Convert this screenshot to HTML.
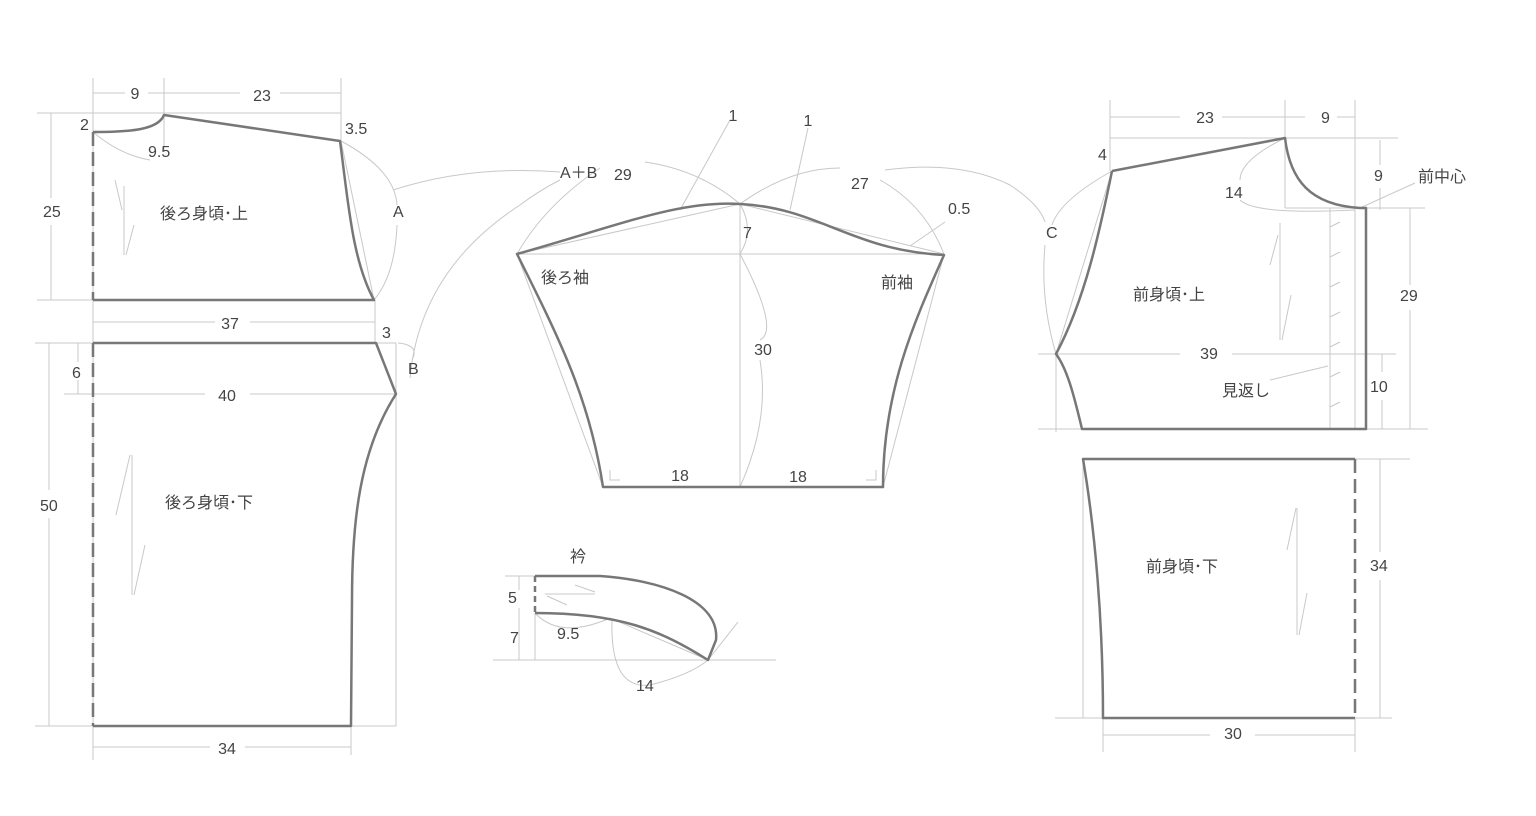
<!DOCTYPE html>
<html><head><meta charset="utf-8"><style>
html,body{margin:0;padding:0;background:#fff;}
svg{display:block;}
text{font-family:"Liberation Sans","Noto Sans CJK JP",sans-serif;font-size:16px;fill:#444;}
.t{fill:none;stroke:#c8c8c8;stroke-width:1;}
.k{fill:none;stroke:#777;stroke-width:2.5;stroke-linejoin:round;}
.d{fill:none;stroke:#777;stroke-width:2.5;stroke-dasharray:14,6;}
</style></head><body>
<svg width="1536" height="816" viewBox="0 0 1536 816">
<g class="t">
<line x1="93" y1="78" x2="93" y2="760"/>
<line x1="164" y1="78" x2="164" y2="152"/>
<line x1="341" y1="78" x2="341" y2="141"/>
<line x1="93" y1="93" x2="125" y2="93"/><line x1="148" y1="93" x2="240" y2="93"/><line x1="280" y1="93" x2="341" y2="93"/>
<line x1="37" y1="113" x2="341" y2="113"/>
<line x1="51" y1="113" x2="51" y2="198"/><line x1="51" y1="225" x2="51" y2="300"/>
<line x1="37" y1="300" x2="93" y2="300"/>
<line x1="93" y1="322" x2="215" y2="322"/><line x1="250" y1="322" x2="375" y2="322"/>
<line x1="375" y1="300" x2="375" y2="343"/>
<path d="M93 132 Q120 155 150 160"/>
<line x1="341" y1="141" x2="374" y2="300"/>
<path d="M341 141 Q395 170 397 205"/><path d="M397 225 Q395 275 374 300"/>
<path d="M393 190 Q470 165 560 172"/>
<path d="M398 343 Q420 345 412 360"/>
<path d="M410 378 Q420 270 520 205 Q540 190 560 180"/>
<line x1="115" y1="180" x2="122" y2="210"/><line x1="124" y1="186" x2="124" y2="255"/><line x1="126" y1="255" x2="134" y2="225"/>
<line x1="35" y1="343" x2="93" y2="343"/>
<line x1="49" y1="343" x2="49" y2="490"/><line x1="49" y1="518" x2="49" y2="726"/>
<line x1="78" y1="343" x2="78" y2="362"/><line x1="78" y1="380" x2="78" y2="394"/>
<line x1="64" y1="394" x2="205" y2="394"/><line x1="250" y1="394" x2="396" y2="394"/>
<line x1="376" y1="343" x2="396" y2="343"/><line x1="396" y1="343" x2="396" y2="726"/>
<line x1="35" y1="726" x2="93" y2="726"/><line x1="351" y1="726" x2="396" y2="726"/>
<line x1="351" y1="726" x2="351" y2="755"/>
<line x1="93" y1="747" x2="210" y2="747"/><line x1="245" y1="747" x2="351" y2="747"/>
<line x1="116" y1="515" x2="130" y2="455"/><line x1="132" y1="455" x2="132" y2="595"/><line x1="134" y1="595" x2="145" y2="545"/>
</g>
<g>
<path class="k" d="M93 132 C130 132 158 130 164 115 L340 141 C348 200 352 260 374 300 L93 300"/>
<line class="d" x1="93" y1="132" x2="93" y2="300"/>
<path class="k" d="M93 343 L376 343 L396 394 C360 450 352 520 352 600 L351 726 L93 726"/>
<line class="d" x1="93" y1="343" x2="93" y2="726"/>
</g>
<text x="135" y="99" text-anchor="middle">9</text>
<text x="262" y="101" text-anchor="middle">23</text>
<text x="80" y="130">2</text>
<text x="148" y="157">9.5</text>
<text x="345" y="134">3.5</text>
<text x="43" y="217">25</text>
<text x="393" y="217">A</text>
<text x="160" y="219">後ろ身頃･上</text>
<text x="230" y="329" text-anchor="middle">37</text>
<text x="382" y="338">3</text>
<text x="72" y="378">6</text>
<text x="408" y="374">B</text>
<text x="227" y="401" text-anchor="middle">40</text>
<text x="40" y="511">50</text>
<text x="165" y="508">後ろ身頃･下</text>
<text x="227" y="754" text-anchor="middle">34</text>

<g class="t">
<line x1="517" y1="254" x2="944" y2="254"/>
<line x1="740" y1="204" x2="740" y2="487"/>
<line x1="517" y1="254" x2="740" y2="204"/><line x1="740" y1="204" x2="944" y2="254"/>
<line x1="517" y1="254" x2="603" y2="487"/><line x1="944" y1="254" x2="883" y2="487"/>
<path d="M517 254 Q545 205 600 168"/><path d="M645 162 Q700 170 740 204"/>
<path d="M740 204 Q790 168 840 168"/><path d="M880 180 Q925 205 944 254"/>
<path d="M885 170 Q960 160 1010 185 Q1040 205 1045 222"/>
<line x1="680" y1="210" x2="730" y2="120"/><line x1="790" y1="210" x2="808" y2="128"/>
<line x1="910" y1="246" x2="945" y2="222"/>
<path d="M740 204 Q755 230 740 254"/>
<path d="M740 254 Q780 330 760 340"/><path d="M760 360 Q770 420 740 487"/>
<polyline points="610,470 610,480 620,480"/><polyline points="876,470 876,480 866,480"/>
</g>
<path class="k" d="M517 254 C620 225 680 200 740 204 C820 208 850 250 944 255 C915 320 883 390 883 487 L603 487 C590 400 560 340 517 254 Z"/>
<text x="733" y="121" text-anchor="middle">1</text>
<text x="808" y="126" text-anchor="middle">1</text>
<text x="560" y="178">A＋B</text>
<text x="614" y="180">29</text>
<text x="851" y="189">27</text>
<text x="948" y="214">0.5</text>
<text x="743" y="238">7</text>
<text x="541" y="283">後ろ袖</text>
<text x="881" y="288">前袖</text>
<text x="763" y="355" text-anchor="middle">30</text>
<text x="680" y="481" text-anchor="middle">18</text>
<text x="798" y="482" text-anchor="middle">18</text>

<g class="t">
<line x1="493" y1="660" x2="776" y2="660"/>
<line x1="505" y1="576" x2="535" y2="576"/>
<line x1="519" y1="576" x2="519" y2="590"/><line x1="519" y1="608" x2="519" y2="660"/>
<line x1="535" y1="613" x2="535" y2="660"/>
<line x1="545" y1="594" x2="595" y2="594"/><line x1="575" y1="585" x2="595" y2="592"/><line x1="547" y1="596" x2="567" y2="605"/>
<path d="M535 613 Q560 640 610 618"/>
<line x1="610" y1="618" x2="708" y2="660"/>
<path d="M612 620 Q610 690 650 685 Q690 675 708 660"/>
<line x1="708" y1="660" x2="738" y2="622"/>
</g>
<path class="k" d="M535 576 L600 576 C660 580 720 600 716 640 L708 660 C660 630 620 613 535 613"/>
<line class="d" x1="535" y1="576" x2="535" y2="613" style="stroke-dasharray:6,4"/>
<text x="570" y="562">衿</text>
<text x="508" y="603">5</text>
<text x="510" y="643">7</text>
<text x="557" y="639">9.5</text>
<text x="636" y="691">14</text>

<g class="t">
<line x1="1110" y1="100" x2="1110" y2="171"/>
<line x1="1285" y1="100" x2="1285" y2="208"/>
<line x1="1355" y1="100" x2="1355" y2="208"/>
<line x1="1110" y1="117" x2="1180" y2="117"/><line x1="1222" y1="117" x2="1305" y2="117"/><line x1="1337" y1="117" x2="1355" y2="117"/>
<line x1="1110" y1="138" x2="1398" y2="138"/>
<line x1="1380" y1="140" x2="1380" y2="165"/><line x1="1380" y1="188" x2="1380" y2="210"/>
<line x1="1285" y1="208" x2="1425" y2="208"/>
<line x1="1410" y1="208" x2="1410" y2="285"/><line x1="1410" y1="310" x2="1410" y2="429"/>
<line x1="1038" y1="354" x2="1180" y2="354"/><line x1="1232" y1="354" x2="1396" y2="354"/>
<line x1="1382" y1="354" x2="1382" y2="372"/><line x1="1382" y1="400" x2="1382" y2="429"/>
<line x1="1038" y1="429" x2="1428" y2="429"/>
<line x1="1056" y1="354" x2="1056" y2="432"/>
<line x1="1330" y1="208" x2="1330" y2="429"/>
<line x1="1355" y1="208" x2="1355" y2="429"/>
<g><line x1="1330" y1="227" x2="1340" y2="222"/><line x1="1330" y1="257" x2="1340" y2="252"/><line x1="1330" y1="287" x2="1340" y2="282"/><line x1="1330" y1="317" x2="1340" y2="312"/><line x1="1330" y1="347" x2="1340" y2="342"/><line x1="1330" y1="377" x2="1340" y2="372"/><line x1="1330" y1="407" x2="1340" y2="402"/></g>
<line x1="1360" y1="208" x2="1415" y2="183"/>
<line x1="1270" y1="380" x2="1328" y2="366"/>
<line x1="1112" y1="171" x2="1056" y2="354"/>
<path d="M1285 138 Q1240 160 1240 180"/><path d="M1240 200 Q1255 215 1355 210"/>
<path d="M1112 171 Q1060 200 1052 225"/><path d="M1045 245 Q1040 300 1056 354"/>
<line x1="1270" y1="265" x2="1278" y2="235"/><line x1="1280" y1="223" x2="1280" y2="340"/><line x1="1282" y1="340" x2="1291" y2="295"/>
</g>
<path class="k" d="M1112 171 L1285 138 C1290 180 1310 205 1360 208 L1366 208 L1366 429 L1082 429 C1075 400 1068 370 1056 354 C1085 300 1100 230 1112 171"/>
<text x="1205" y="123" text-anchor="middle">23</text>
<text x="1321" y="123">9</text>
<text x="1098" y="160">4</text>
<text x="1374" y="181">9</text>
<text x="1418" y="182">前中心</text>
<text x="1225" y="198">14</text>
<text x="1046" y="238">C</text>
<text x="1133" y="300">前身頃･上</text>
<text x="1400" y="301">29</text>
<text x="1209" y="359" text-anchor="middle">39</text>
<text x="1370" y="392">10</text>
<text x="1222" y="396">見返し</text>

<g class="t">
<line x1="1355" y1="459" x2="1410" y2="459"/>
<line x1="1380" y1="459" x2="1380" y2="552"/><line x1="1380" y1="580" x2="1380" y2="718"/>
<line x1="1355" y1="718" x2="1392" y2="718"/><line x1="1055" y1="718" x2="1103" y2="718"/>
<line x1="1083" y1="459" x2="1083" y2="718"/>
<line x1="1103" y1="718" x2="1103" y2="752"/><line x1="1355" y1="718" x2="1355" y2="752"/>
<line x1="1103" y1="735" x2="1210" y2="735"/><line x1="1255" y1="735" x2="1355" y2="735"/>
<line x1="1287" y1="550" x2="1296" y2="508"/><line x1="1297" y1="508" x2="1297" y2="635"/><line x1="1299" y1="635" x2="1307" y2="593"/>
</g>
<path class="k" d="M1355 459 L1083 459 C1095 530 1103 620 1103 718 L1355 718"/>
<line class="d" x1="1355" y1="459" x2="1355" y2="718"/>
<text x="1146" y="572">前身頃･下</text>
<text x="1370" y="571">34</text>
<text x="1233" y="739" text-anchor="middle">30</text>
</svg>
</body></html>
